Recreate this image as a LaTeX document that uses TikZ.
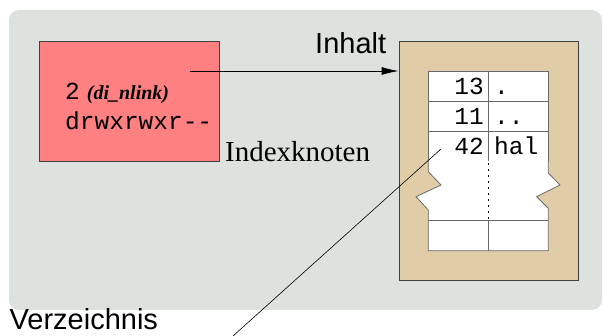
\documentclass[tikz,border=0pt]{standalone}
\usepackage{fontspec}
\setmainfont{Liberation Serif}
\setsansfont{Liberation Sans}
\setmonofont{Liberation Mono}
\usetikzlibrary{arrows.meta}
\usetikzlibrary{positioning}

\definecolor{bggray}{RGB}{222,226,222}
\definecolor{inodered}{RGB}{255,128,128}
\definecolor{blocktan}{RGB}{224,205,168}
\definecolor{linegray}{RGB}{105,105,105}

\begin{document}
\begin{tikzpicture}[x=1pt, y=-1pt,
    inodebox/.style={draw=black!75, fill=inodered, line width=0.8pt, minimum width=179.5pt, minimum height=120pt, inner sep=0pt},
    blockbox/.style={draw=black!75, fill=blocktan, line width=0.8pt, minimum width=179.3pt, minimum height=239pt, inner sep=0pt},
    cellline/.style={draw=linegray, line width=0.8pt},
    lbl/.style={inner sep=0pt, anchor=base west},
    bigsans/.style={font=\fontsize{29}{33}\selectfont\sffamily},
    bigserif/.style={font=\fontsize{29}{33}\selectfont\rmfamily},
    mono/.style={font=\fontsize{24.5}{28}\selectfont\ttfamily}]
    \useasboundingbox (0,0) rectangle (603,336);
    \fill[bggray, rounded corners=10pt] (9,10) rectangle (602,310);

    % Indexknoten
    \node[inodebox] (inode) at (129.25,101.15) {};
    \node[lbl, mono] (nlink) at (65,100) {2\hspace{7pt}{\fontsize{20}{24}\selectfont\rmfamily\bfseries\itshape (di\_nlink)}};
    \node[lbl, mono] (mode) at (65,130) {drwxrwxr--};
    \node[lbl, bigserif] (idxlbl) at ([xshift=5.5pt]inode.south east) {Indexknoten};
    \coordinate (inodept) at (190,71);

    % Datenblock des Verzeichnisses
    \node[blockbox] (block) at (488.65,161.2) {};
    \node[lbl, bigsans] (inhalt) at (315,53.3) {Inhalt};
    \foreach \num/\name [count=\i] in {13/{.},11/{..},42/hal} {
        \draw[cellline, fill=white] (428.3,41+30*\i) rectangle (548.3,71+30*\i);
        \draw[cellline] (488.3,41+30*\i) -- (488.3,71+30*\i);
        \node[inner sep=0pt, anchor=base east, mono] (n\num) at (484,65+30*\i) {\num};
        \node[lbl, mono] (f\num) at (494,65+30*\i) {\name};
    }
    \draw[cellline, fill=white] (428.3,161) -- (428.3,171.7) -- (441,185) -- (416,196.7) -- (428.3,210) -- (428.3,250.7)
        -- (548.3,250.7) -- (548.3,208.3) -- (536.7,196.7) -- (560,185) -- (548.3,173) -- (548.3,161);
    \draw[cellline] (428.3,220.7) -- (548.3,220.7);
    \draw[cellline] (488.3,220.7) -- (488.3,250.7);
    \draw[black, line width=0.8pt, dash pattern=on 2pt off 4pt] (488.3,163) -- (488.3,220.7);

    % Verzeichnis
    \node[lbl, bigsans] (verz) at (9.5,329.8) {Verzeichnis};
    \coordinate (dirent) at (441,149);
    \coordinate (verzend) at (233,336);

    % Verbindungen
    \draw[-{Latex[length=17pt, width=8pt]}, line width=0.8pt] (inodept) -- (block.west |- inodept);
    \draw[line width=0.6pt] (dirent) -- (verzend);
\end{tikzpicture}
\end{document}
